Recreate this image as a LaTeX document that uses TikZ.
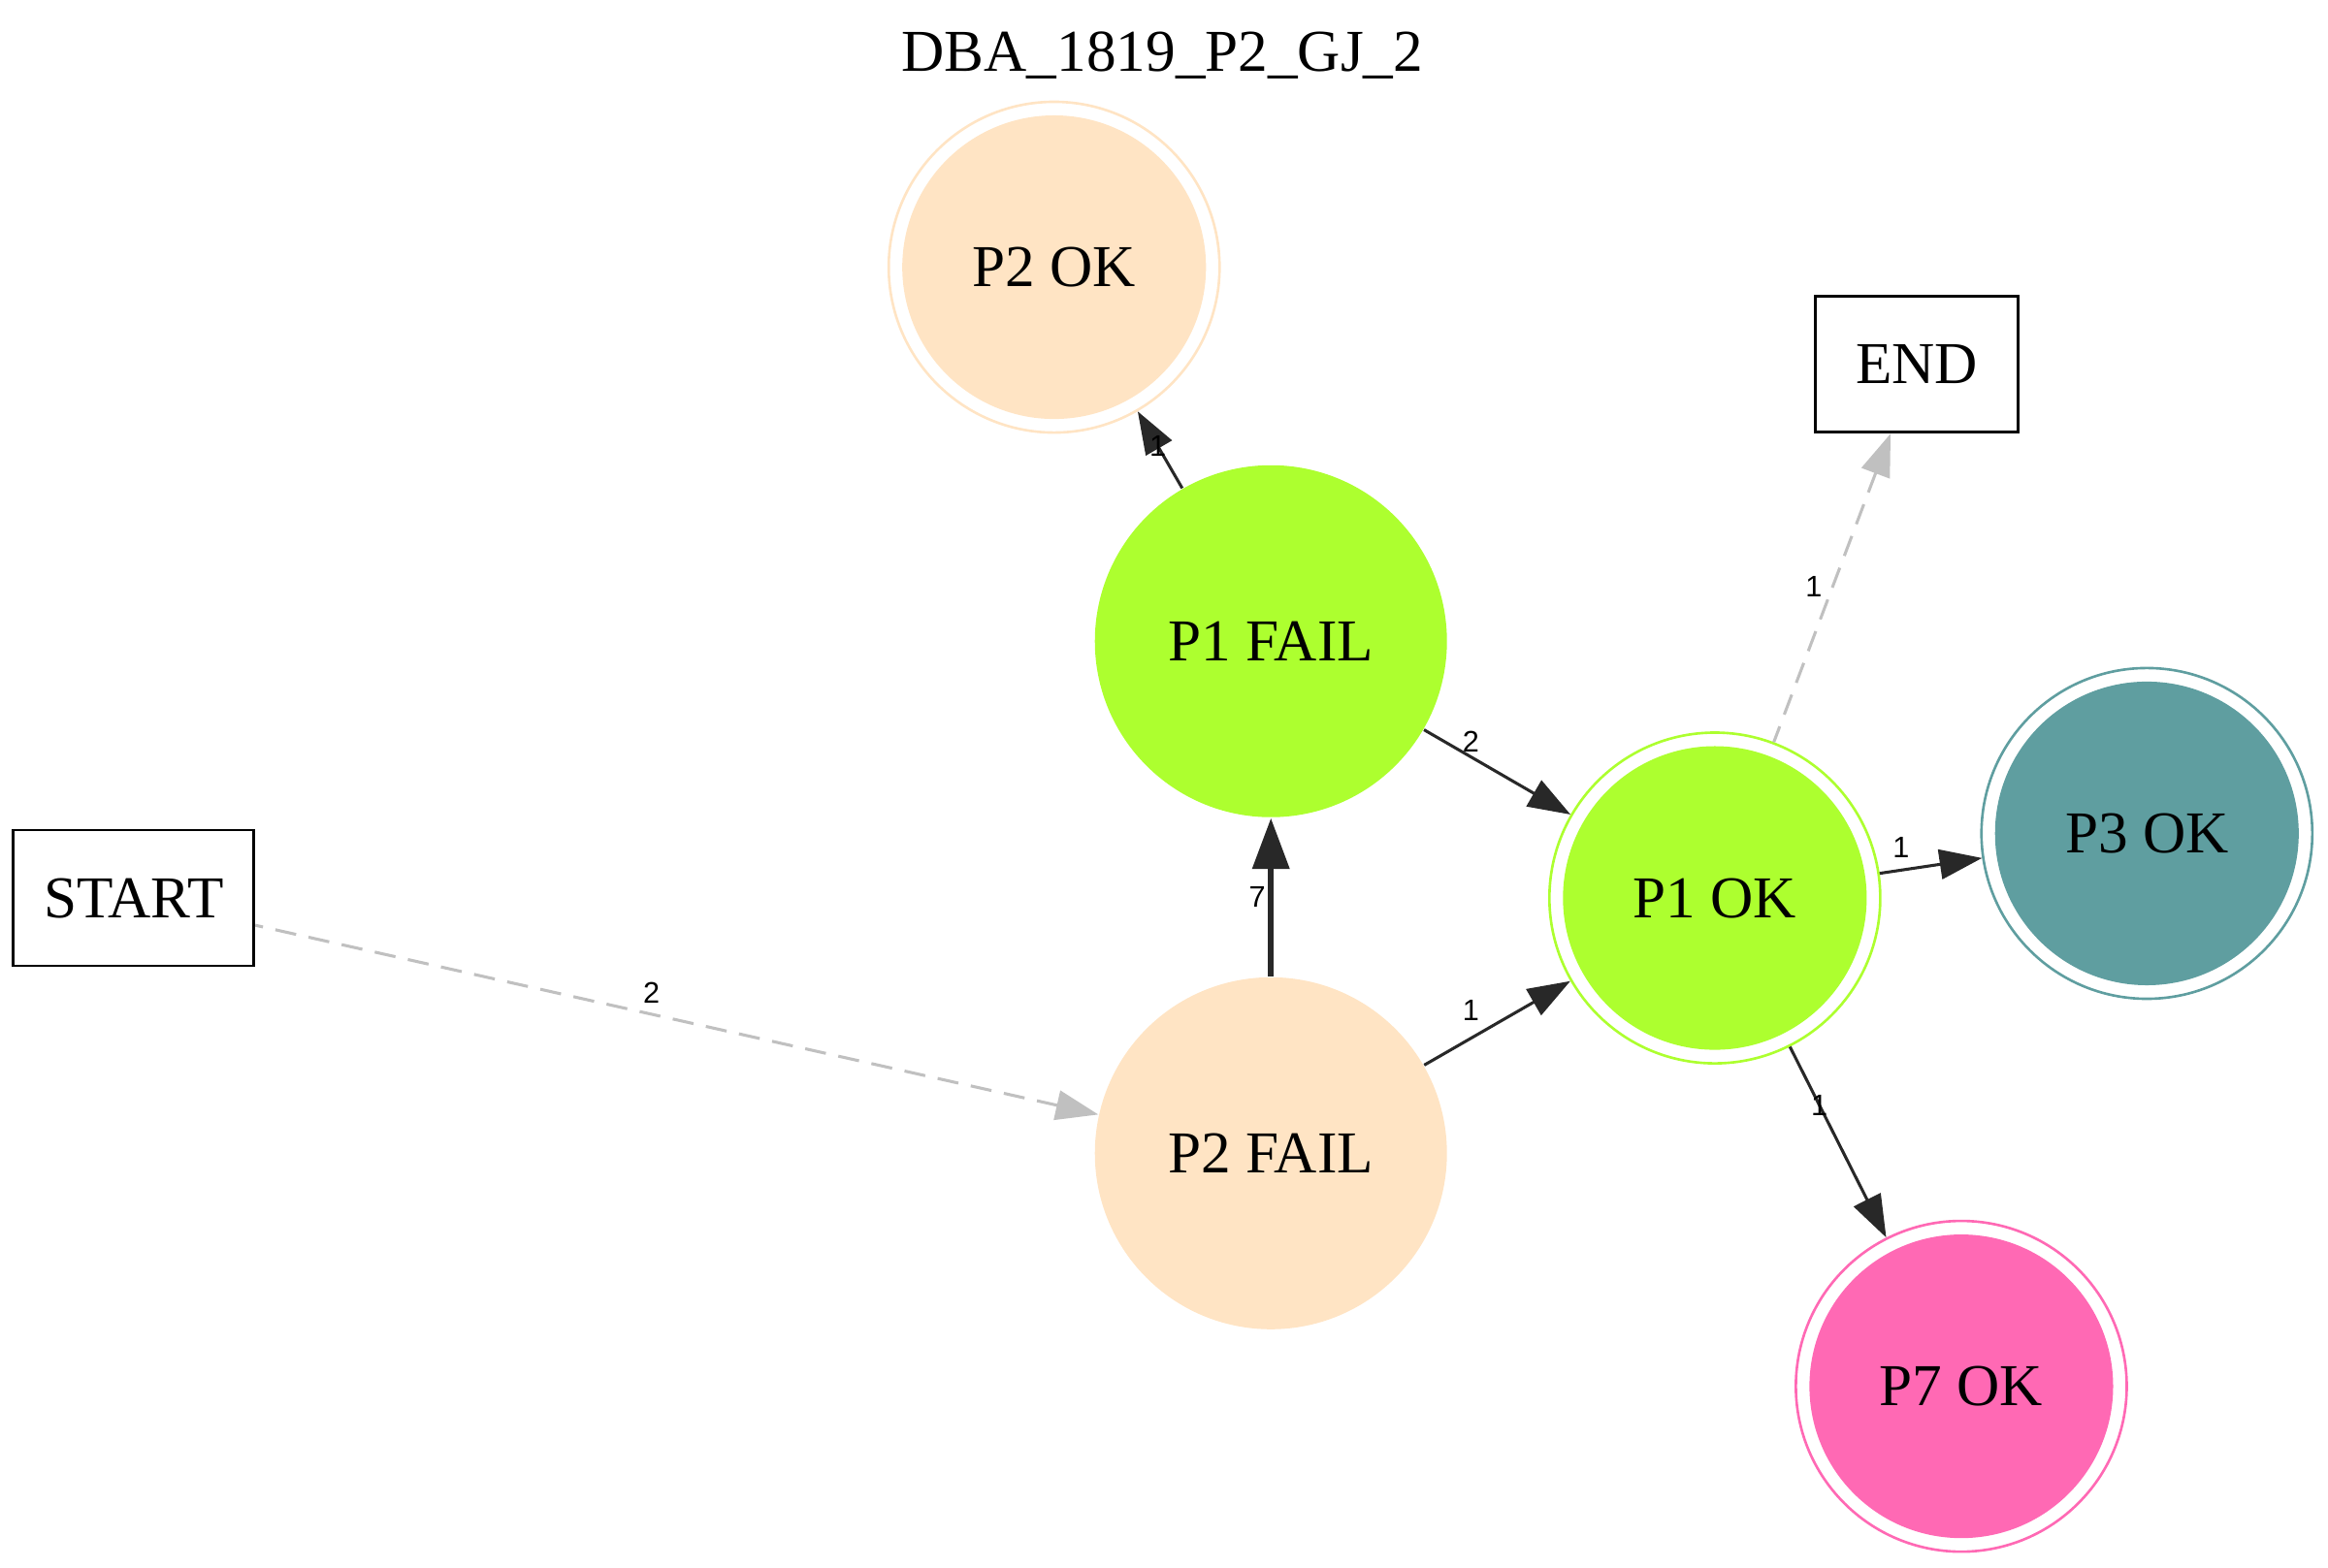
\documentclass[tikz,border=0pt]{standalone}
\usepackage{fontspec}
\setmainfont{Liberation Serif}
\newfontfamily\labelfont{Liberation Sans}
\usetikzlibrary{%
  arrows.meta,% Triangle tips
  shapes%
}
\definecolor{bisque}{HTML}{FFE4C4}
\definecolor{greenyellow}{HTML}{ADFF2F}
\definecolor{cadetblue}{HTML}{5F9EA0}
\definecolor{hotpink}{HTML}{FF69B4}
\definecolor{edgegray}{HTML}{282828}
\definecolor{dashgray}{HTML}{C0C0C0}

\begin{document}
\begin{tikzpicture}
[x=0.35pt, y=-0.35pt, >={Triangle[length=10pt,width=7pt]},
every node/.style={font=\fontsize{14}{16}\selectfont},
failstate/.style={circle, fill=#1, inner sep=0pt, minimum size=83pt},
okstate/.style={circle, draw=#1, line width=0.6pt, inner sep=0pt, minimum size=78pt,
  path picture={\fill[#1] (path picture bounding box.center) circle[radius=35.8pt];}},
terminal/.style={rectangle, draw=black, line width=0.65pt, inner sep=0pt, minimum height=32pt},
flow/.style={color=edgegray, line width=0.7pt},
heavy/.style={color=edgegray, line width=1.5pt, {Triangle[length=12pt,width=8.5pt]}-},
dashedge/.style={color=dashgray, line width=0.7pt, dash pattern=on 5pt off 3pt},
lbl/.style={font=\fontsize{7}{8}\selectfont\labelfont, text=black, inner sep=0.5pt}]

\useasboundingbox (0,0) rectangle (1568,1056);

\node (title) at (783,37) {DBA\_1819\_P2\_GJ\_2};

\node[terminal, minimum width=56.7pt] (start) at (90,605) {START};
\node[failstate=bisque] (p2fail) at (856,777) {P2 FAIL}
  edge [<-, dashedge] node[lbl, pos=0.53, above=1.7pt] {2} (start);
\node[failstate=greenyellow] (p1fail) at (856,432) {P1 FAIL}
  edge [<-, heavy] node[lbl, pos=0.5, left=0pt] {7} (p2fail);
\node[okstate=bisque] (p2ok) at (710,180) {P2 OK}
  edge [<-, flow] node[lbl, pos=0.45] {1} (p1fail);
\node[okstate=greenyellow] (p1ok) at (1155,605) {P1 OK}
  edge [<-, flow] node[lbl, pos=0.68, above=0.3pt] {2} (p1fail)
  edge [<-, flow] node[lbl, pos=0.68, above=3.2pt] {1} (p2fail);
\node[terminal, minimum width=47.8pt] (end) at (1291,245.5) {END}
  edge [<-, dashedge] node[lbl, pos=0.495, left=1.7pt] {1} (p1ok);
\node[okstate=cadetblue] (p3ok) at (1446,561.5) {P3 OK}
  edge [<-, flow] node[lbl, pos=0.79, above=2pt] {1} (p1ok);
\node[okstate=hotpink] (p7ok) at (1321,934) {P7 OK}
  edge [<-, flow] node[lbl, pos=0.695] {1} (p1ok);
\end{tikzpicture}
\end{document}
